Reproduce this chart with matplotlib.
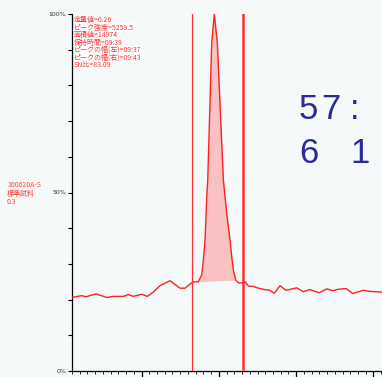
import matplotlib.pyplot as plt
import numpy as np

# trace: time (s from axis start) and signal (%)
t = [0.0, 1.25, 1.81, 3.10, 4.49, 5.34, 6.64, 7.28, 7.93, 9.02, 9.74, 10.52,
     11.38, 12.68, 13.97, 14.62, 15.61, 16.34, 16.78, 16.99, 17.21, 17.43,
     17.56, 18.07, 18.41, 18.80, 19.58, 20.01, 20.44, 20.66, 20.87, 21.18,
     21.51, 21.95, 22.38, 22.81, 23.45, 24.10, 24.97, 25.61, 26.17, 26.91,
     27.68, 29.07, 29.92, 30.79, 31.99, 32.95, 33.73, 34.45, 35.45, 36.31,
     37.68, 38.55, 40.06]
signal = [20.6, 21.1, 20.8, 21.6, 20.6, 20.9, 20.9, 21.4, 20.9, 21.5, 20.9, 22.1,
          23.9, 25.3, 23.2, 23.2, 24.9, 25.0, 26.9, 31.1, 36.7, 48.8,
          53.5, 91.8, 100.0, 91.8, 53.5, 44.2, 36.7, 32.0, 28.3, 25.5,
          24.7, 24.7, 25.0, 23.8, 23.7, 23.2, 22.8, 22.6, 21.8, 23.9,
          22.6, 23.3, 22.2, 22.8, 21.9, 23.0, 22.5, 22.9, 23.1, 21.7,
          22.6, 22.3, 22.1]

peak_left = 15.56
peak_right = 22.08
area_start = 16.34
area_end = 21.18

info = ["定量値=0.26", "ピーク強度=5259.5", "面積値=14974", "保持時間=09:39",
        "ピークの幅(左)=09:37", "ピークの幅(右)=09:43", "SN比=83.09"]
sample = ["100620A-S", "標準試料", "0.3"]

bg = '#f5f9f9'
red = '#ff2020'
jp = ['Noto Sans CJK JP', 'DejaVu Sans']

fig = plt.figure(figsize=(3.82, 3.77), dpi=100, facecolor=bg)
ax = fig.add_axes([72/382, 6/377, 1 - 72/382, 357/377])
ax.set_facecolor(bg)

t = np.array(t)
signal = np.array(signal)
ax.plot(t, signal, color=red, lw=1.0, zorder=3)

# peak area down to the straight baseline
m = (t >= area_start) & (t <= area_end)
base = np.interp(t[m], [area_start, area_end], [signal[m][0], signal[m][-1]])
ax.fill_between(t[m], signal[m], base, color='#f9c1c1', lw=0, zorder=2)

ax.axvline(peak_left, color='#ff3030', lw=0.9, zorder=4)
ax.axvline(peak_right, color='#ff3030', lw=1.8, zorder=4)

ax.set_xlim(0, 40.1)
ax.set_ylim(0, 100)
for s in ['top', 'right']:
    ax.spines[s].set_visible(False)
ax.spines['left'].set_linewidth(0.9)
ax.spines['bottom'].set_linewidth(0.9)

ax.set_xticks([9, 19, 29, 39])
ax.set_xticks(np.arange(0, 41, 1), minor=True)
ax.set_xticklabels([])
ax.tick_params(axis='x', which='major', length=4, width=0.9)
ax.tick_params(axis='x', which='minor', length=2, width=0.6)

ax.set_yticks([0, 50, 100])
ax.set_yticklabels(['0%', '50%', '100%'], fontsize=4.5, color='#333333',
                   family='DejaVu Sans')
ax.set_yticks(np.arange(0, 101, 10), minor=True)
ax.tick_params(axis='y', which='both', length=3, width=0.8, pad=1)

for i, line in enumerate(info):
    fig.text(74/382, 1 - (20 + 7.5*i)/377, line, fontsize=5.0, color='#ff3333',
             family=jp, va='center', ha='left',
             bbox=dict(facecolor='white', edgecolor='none', pad=0.2))

for i, line in enumerate(sample):
    fig.text(7/382, 1 - (185 + 8.6*i)/377, line, fontsize=5.0, color='#ff4444',
             family=jp, va='center', ha='left')

# large readout on the right
big = dict(fontsize=25, color='#2b2b99', family='Liberation Sans', va='baseline')
fig.text(299/382, 1 - 119/377, '5', **big)
fig.text(321/382, 1 - 119/377, '7', **big)
fig.text(350/382, 1 - 119/377, ':', **big)
fig.text(299/382, 1 - 163/377, '6', **big)
fig.text(350/382, 1 - 163/377, '1', **big)

fig.savefig('out.png', dpi=100, facecolor=bg)
